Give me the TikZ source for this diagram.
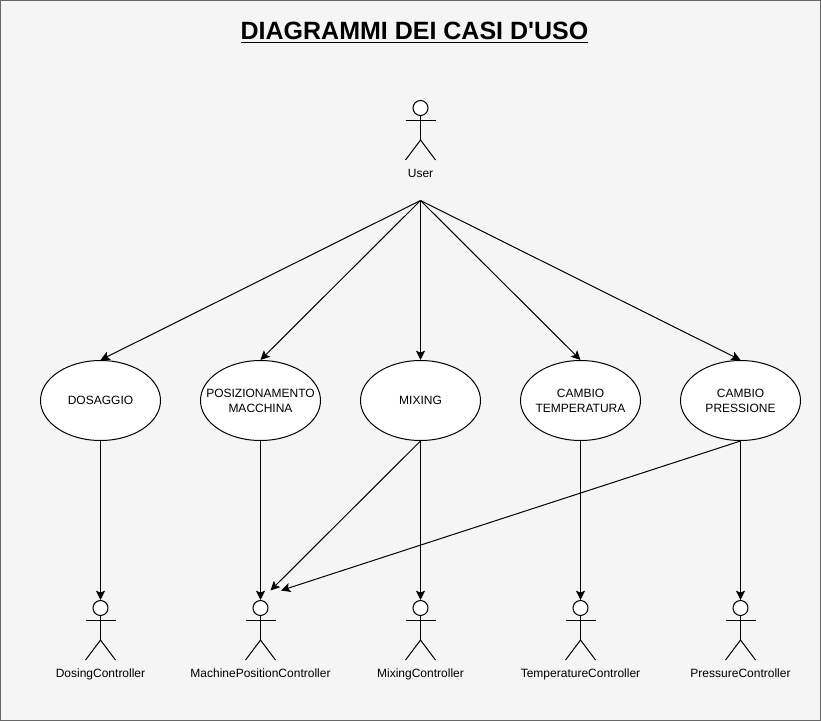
\documentclass[tikz,border=0pt]{standalone}
\usepackage{fontspec}
\setmainfont{Liberation Sans}
\newfontfamily\titlefont{Liberation Sans}
\usetikzlibrary{arrows.meta,shapes.geometric}
\definecolor{bgfill}{HTML}{F5F5F5}
\definecolor{bgline}{HTML}{666666}
\definecolor{ink}{HTML}{000000}
\newcommand\caselabel[1]{\makebox[0pt]{\raisebox{-3pt}[0pt][0pt]{\begin{tabular}{@{}c@{}}#1\end{tabular}}}}
\tikzset{
  x=0.75pt,y=-0.75pt,
  every node/.style={font=\fontsize{9pt}{11.25pt}\selectfont,text=ink},
  usecase/.style={draw=ink,fill=white,ellipse,line width=0.75pt,minimum width=90pt,minimum height=60pt,inner sep=0pt},
  head/.style={draw=ink,fill=white,circle,line width=0.75pt,minimum size=11.25pt,inner sep=0pt},
  limb/.style={draw=ink,line width=0.75pt},
  actorlabel/.style={anchor=base},
  conn/.style={draw=ink,line width=0.75pt,-{Stealth[length=7pt,width=6.8pt,inset=1.5pt]}},
  pics/actor/.style={code={
    \node[head] (#1-head) at (0,-12) {};
    \draw[limb] (#1-head.south) -- (0,20);
    \draw[limb] (-15,0) -- (15,0);
    \draw[limb] (-15,40) -- (0,20) -- (15,40);
  }}
}
\begin{document}
\begin{tikzpicture}
\useasboundingbox (0,0) rectangle (821,721);
\path[fill=bgfill,draw=bgline,line width=0.75pt] (0.5,0.5) rectangle (820.5,720.5);
\node[font=\fontsize{18.75pt}{24pt}\titlefont\bfseries] (title) at (414.5,32.5) {\underline{DIAGRAMMI DEI CASI D'USO}};

\pic at (420.5,120) {actor=user};
\node[actorlabel] (userlabel) at (420.5,177.5) {User};
\coordinate (hub) at (420.5,200.5);

\node[usecase] (dos) at (100.5,400.5) {\caselabel{DOSAGGIO}};
\node[usecase] (pos) at (260.5,400.5) {\caselabel{POSIZIONAMENTO\\MACCHINA}};
\node[usecase] (mix) at (420.5,400.5) {\caselabel{MIXING}};
\node[usecase] (tem) at (580.5,400.5) {\caselabel{CAMBIO\\TEMPERATURA}};
\node[usecase] (pre) at (740.5,400.5) {\caselabel{CAMBIO\\PRESSIONE}};

\pic at (100.5,620) {actor=a1};
\pic at (260.5,620) {actor=a2};
\pic at (420.5,620) {actor=a3};
\pic at (580.5,620) {actor=a4};
\pic at (740.5,620) {actor=a5};
\node[actorlabel] (l1) at (100.5,677.5) {DosingController};
\node[actorlabel] (l2) at (260.5,677.5) {MachinePositionController};
\node[actorlabel] (l3) at (420.5,677.5) {MixingController};
\node[actorlabel] (l4) at (580.5,677.5) {TemperatureController};
\node[actorlabel] (l5) at (740.5,677.5) {PressureController};

\coordinate (t1) at (270.5,590.5);
\coordinate (t2) at (281,590.5);

\foreach \n in {dos,pos,mix,tem,pre}{\draw[conn] (hub) -- (\n.north);}
\draw[conn] (dos.south) -- (a1-head.north);
\draw[conn] (pos.south) -- (a2-head.north);
\draw[conn] (mix.south) -- (a3-head.north);
\draw[conn] (tem.south) -- (a4-head.north);
\draw[conn] (pre.south) -- (a5-head.north);
\draw[conn] (mix.south) -- (t1);
\draw[conn] (pre.south) -- (t2);
\end{tikzpicture}
\end{document}
